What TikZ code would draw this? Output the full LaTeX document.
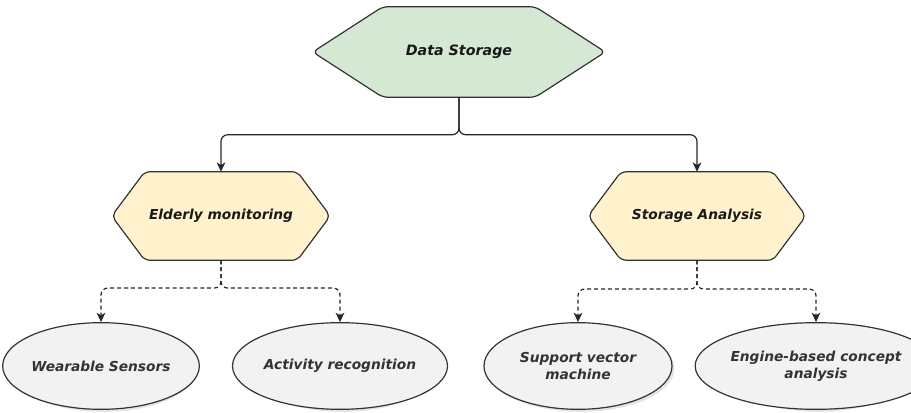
\documentclass[tikz,border=0pt]{standalone}
\usepackage{fontspec}
\setmainfont{DejaVu Sans}
\usetikzlibrary{arrows.meta,calc,backgrounds,shapes.geometric}

\definecolor{greenfill}{HTML}{D5E8D4}
\definecolor{yellowfill}{HTML}{FFF2CC}
\definecolor{greyfill}{HTML}{F2F2F2}
\definecolor{outline}{HTML}{333333}
\definecolor{labeltext}{HTML}{333333}

% hexagon outline around a (rectangular, undrawn) node, #2 = slant in px
\newcommand\hexpath[2]{($(#1.west)$) -- ($(#1.north west)+(#2,0)$) -- ($(#1.north east)+(-#2,0)$) -- (#1.east) -- ($(#1.south east)+(-#2,0)$) -- ($(#1.south west)+(#2,0)$) -- cycle}

\begin{document}
\begin{tikzpicture}[x=0.75pt,y=-0.75pt,
  labelfont/.style={font=\fontsize{10.3}{13}\selectfont\bfseries\itshape},
  hexnode/.style={labelfont,shape=rectangle,inner sep=0pt,align=center,text=black!90},
  ovalnode/.style={labelfont,ellipse,draw=outline,line width=0.9pt,fill=greyfill,
    minimum width=141pt,minimum height=65pt,inner sep=0pt,align=center,text=labeltext},
  hexline/.style={draw=outline,line width=0.9pt,rounded corners=4pt},
  shade/.style={fill=black!30,opacity=0.35},
  conn/.style={draw=black!85,line width=0.9pt,rounded corners=5pt,
    -{Stealth[length=7pt,width=6.5pt,inset=2pt]}},
  dconn/.style={conn,dash pattern=on 3pt off 2.2pt}]

\useasboundingbox (0,0) rectangle (911,413);

% hexagon nodes (text only; outlines drawn behind)
\node[hexnode,minimum width=219pt,minimum height=67.5pt,
  font=\fontsize{10.7}{13}\selectfont\bfseries\itshape] (ds) at (459,52) {Data Storage};
\node[hexnode,minimum width=163.5pt,minimum height=66pt] (em) at (221,216) {Elderly monitoring};
\node[hexnode,minimum width=163pt,minimum height=66pt] (sa) at (697,216) {Storage Analysis};

\begin{scope}[on background layer]
  \begin{scope}[shift={(2.5,2.5)}]
    \fill[shade,rounded corners=4pt] \hexpath{ds}{70};
    \fill[shade,rounded corners=4pt] \hexpath{em}{33};
    \fill[shade,rounded corners=4pt] \hexpath{sa}{33};
  \end{scope}
  \path[hexline,fill=greenfill] \hexpath{ds}{70};
  \path[hexline,fill=yellowfill] \hexpath{em}{33};
  \path[hexline,fill=yellowfill] \hexpath{sa}{33};
\end{scope}

% leaf ellipses with soft shadows
\foreach \p in {(101,366),(340,366),(578,366),(816,366)}{
  \fill[shade] \p ++(2.5,2.5) ellipse (70.5pt and 32.5pt);
}
\node[ovalnode] (ws) at (101,366) {Wearable Sensors};
\node[ovalnode] (ar) at (340,366) {Activity recognition};
\node[ovalnode] (sv) at (578,366) {Support vector\\machine};
\node[ovalnode] (eb) at (816,366) {Engine-based concept\\analysis};

% connectors
\draw[conn] (ds.south) |- ($(em.north)+(0,-37)$) -- (em.north);
\draw[conn] (ds.south) |- ($(sa.north)+(0,-37)$) -- (sa.north);

\draw[dconn] (em.south) |- ($(ws.north)+(0,-34)$) -- (ws.north);
\draw[dconn] (em.south) |- ($(ar.north)+(0,-34)$) -- (ar.north);
\draw[dconn] (sa.south) |- ($(sv.north)+(0,-33)$) -- (sv.north);
\draw[dconn] (sa.south) |- ($(eb.north)+(0,-33)$) -- (eb.north);
\end{tikzpicture}
\end{document}
